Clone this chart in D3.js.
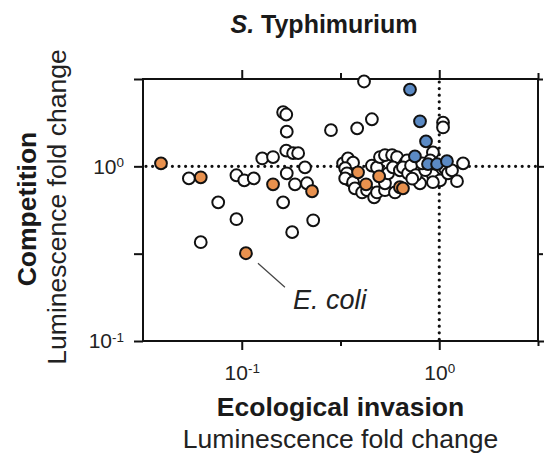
<!DOCTYPE html>
<html>
<head>
<meta charset="utf-8">
<script src="https://cdn.jsdelivr.net/npm/d3@7"></script>
<style>
  body { margin: 0; background: #fff; }
  svg { display: block; font-family: "Liberation Sans", Arial, sans-serif; }
</style>
</head>
<body>
<svg id="chart"></svg>
<script>
// invasion fold change (x), competition fold change (y)
const strainsOther = [
  [0.416, 3.06], [0.162, 2.04], [0.168, 1.98], [0.169, 1.58], [0.283, 1.61],
  [0.384, 1.65], [0.456, 1.86], [1.045, 1.78], [1.045, 1.67], [0.168, 1.23],
  [0.182, 1.19], [0.193, 1.19], [0.127, 1.11], [0.144, 1.13], [0.209, 0.986],
  [0.169, 0.912], [0.186, 0.789], [0.214, 0.800], [0.162, 0.622], [0.230, 0.491],
  [0.180, 0.420], [0.094, 0.498], [0.076, 0.622], [0.062, 0.368], [0.054, 0.853],
  [0.094, 0.889], [0.103, 0.832], [0.115, 0.853],
  [0.326, 1.04], [0.345, 1.11], [0.366, 1.05], [0.334, 0.975], [0.341, 0.912],
  [0.353, 0.832], [0.334, 0.853], [0.366, 0.811], [0.374, 0.748], [0.407, 0.709],
  [0.431, 0.730], [0.468, 0.665], [0.484, 0.709], [0.531, 0.730], [0.531, 0.800],
  [0.456, 1.01], [0.484, 0.986], [0.501, 1.13], [0.531, 1.16], [0.577, 1.16],
  [0.611, 1.13], [0.551, 0.912], [0.583, 0.986], [0.632, 0.948], [0.671, 1.04],
  [0.597, 0.709], [0.687, 1.08], [0.655, 0.986], [0.736, 0.986], [0.799, 0.948],
  [0.695, 0.912], [0.780, 0.832], [0.867, 0.865], [0.929, 0.889], [1.01, 0.832],
  [0.799, 0.800], [0.929, 0.811], [0.929, 1.20], [1.07, 0.975], [1.107, 0.912],
  [1.16, 0.948], [1.32, 1.04], [1.23, 0.822], [0.72, 1.01], [0.76, 0.89],
  [0.85, 0.95], [0.90, 1.08], [0.73, 0.85], [0.82, 1.04]
];

const strainsOrange = [
  [0.039, 1.04], [0.062, 0.865], [0.144, 0.789], [0.227, 0.720], [0.105, 0.318],
  [0.388, 0.924], [0.426, 0.789], [0.496, 0.877], [0.632, 0.759], [0.655, 0.748]
];

const strainsBlue = [
  [0.711, 2.75], [0.799, 1.81], [0.857, 1.39], [0.753, 1.14],
  [0.877, 1.03], [0.975, 1.03], [1.094, 1.07]
];

const annotations = [{name: "E. coli", x: 0.105, y: 0.318}];

const majorTicks = [0.1, 1];
const minorTicks = [Math.pow(10, -0.5), Math.pow(10, 0.5)];
const xDomain = [Math.pow(10, -1.5), Math.pow(10, 0.5)];
const yDomain = [0.1, Math.pow(10, 0.5)];

function main() {
  const width = 551, height = 457;
  const left = 143, right = 538, top = 79, bottom = 341;

  const colors = {other: "#fff", orange: "#e8914e", blue: "#5b8ac4"};

  const svg = d3.select("#chart")
    .attr("width", width)
    .attr("height", height);

  const x = d3.scaleLog().domain(xDomain).range([left, right]);
  const y = d3.scaleLog().domain(yDomain).range([bottom, top]);

  // exponent labels like 10^-1
  function powerLabel(sel) {
    sel.selectAll(".tick text").each(function(d) {
      const t = d3.select(this).text("");
      t.append("tspan").text("10");
      t.append("tspan")
        .attr("dy", "-0.5em")
        .attr("font-size", "0.64em")
        .text(Math.round(Math.log10(d)));
    });
  }

  function styleAxis(g) {
    g.attr("font-size", null).attr("font-family", null);
    g.select(".domain").remove();
    g.selectAll(".tick line").attr("stroke", "#111").attr("stroke-width", 2);
    g.selectAll(".tick text")
      .style("font-size", "21px")
      .attr("fill", "#222");
  }

  // bottom
  svg.append("g")
    .attr("transform", `translate(0,${bottom})`)
    .call(d3.axisBottom(x).tickValues(majorTicks).tickSize(9).tickPadding(15))
    .call(styleAxis)
    .call(powerLabel);
  svg.append("g")
    .attr("transform", `translate(0,${bottom})`)
    .call(d3.axisBottom(x).tickValues(minorTicks).tickSize(5).tickFormat(""))
    .call(styleAxis);

  // left
  svg.append("g")
    .attr("transform", `translate(${left},0)`)
    .call(d3.axisLeft(y).tickValues(majorTicks).tickSize(9).tickPadding(10))
    .call(styleAxis)
    .call(powerLabel);
  svg.append("g")
    .attr("transform", `translate(${left},0)`)
    .call(d3.axisLeft(y).tickValues(minorTicks).tickSize(9).tickFormat(""))
    .call(styleAxis);

  // top and right, ticks only
  svg.append("g")
    .attr("transform", `translate(0,${top})`)
    .call(d3.axisTop(x).tickValues(majorTicks).tickSize(9).tickFormat(""))
    .call(styleAxis);
  svg.append("g")
    .attr("transform", `translate(0,${top})`)
    .call(d3.axisTop(x).tickValues(minorTicks).tickSize(6).tickFormat(""))
    .call(styleAxis);
  svg.append("g")
    .attr("transform", `translate(${right},0)`)
    .call(d3.axisRight(y).tickValues(majorTicks).tickSize(6).tickFormat(""))
    .call(styleAxis);
  svg.append("g")
    .attr("transform", `translate(${right},0)`)
    .call(d3.axisRight(y).tickValues(minorTicks).tickSize(5).tickFormat(""))
    .call(styleAxis);

  svg.append("rect")
    .attr("x", left).attr("y", top)
    .attr("width", right - left).attr("height", bottom - top)
    .attr("fill", "none")
    .attr("stroke", "#111")
    .attr("stroke-width", 2);

  // dotted reference lines at fold change = 1
  const refs = svg.append("g")
    .attr("stroke", "#111")
    .attr("stroke-width", 3.2)
    .attr("stroke-linecap", "round")
    .attr("stroke-dasharray", "0 6.6");
  refs.append("line")
    .attr("x1", x(xDomain[0]) + 3).attr("x2", x(xDomain[1]))
    .attr("y1", y(1)).attr("y2", y(1));
  refs.append("line")
    .attr("x1", x(1)).attr("x2", x(1))
    .attr("y1", y(yDomain[1]) + 3).attr("y2", y(yDomain[0]));

  const groups = [
    {data: strainsOther, col: colors.other},
    {data: strainsOrange, col: colors.orange},
    {data: strainsBlue, col: colors.blue}
  ];

  groups.forEach(grp => {
    svg.append("g")
      .selectAll("circle")
      .data(grp.data)
      .enter()
      .append("circle")
        .attr("cx", d => x(d[0]))
        .attr("cy", d => y(d[1]))
        .attr("r", 5.9)
        .attr("fill", grp.col)
        .attr("stroke", "#111")
        .attr("stroke-width", 2);
  });

  // E. coli label
  const ann = svg.append("g")
    .selectAll("g")
    .data(annotations)
    .enter()
    .append("g")
      .attr("transform", d => `translate(${x(d.x)},${y(d.y)})`);
  ann.append("line")
    .attr("x1", 12).attr("y1", 10)
    .attr("x2", 39).attr("y2", 34)
    .attr("stroke", "#444")
    .attr("stroke-width", 1.2);
  ann.append("text")
    .attr("x", 47).attr("y", 56)
    .attr("font-size", 27)
    .attr("font-style", "italic")
    .attr("fill", "#222")
    .text(d => d.name);

  // title
  const title = svg.append("text")
    .attr("x", 324).attr("y", 33)
    .attr("text-anchor", "middle")
    .attr("font-size", 25)
    .attr("font-weight", "bold")
    .attr("fill", "#1a1a1a");
  title.append("tspan").attr("font-style", "italic").text("S.");
  title.append("tspan").text(" Typhimurium");

  // axis titles
  const cx = (left + right) / 2;
  svg.append("text")
    .attr("x", cx).attr("y", 416)
    .attr("text-anchor", "middle")
    .attr("font-size", 26.5)
    .attr("font-weight", "bold")
    .attr("fill", "#1a1a1a")
    .text("Ecological invasion");
  svg.append("text")
    .attr("x", cx).attr("y", 448)
    .attr("text-anchor", "middle")
    .attr("font-size", 26.5)
    .attr("fill", "#222")
    .text("Luminescence fold change");

  svg.append("text")
    .attr("transform", "translate(36,209) rotate(-90)")
    .attr("text-anchor", "middle")
    .attr("font-size", 26.5)
    .attr("font-weight", "bold")
    .attr("fill", "#1a1a1a")
    .text("Competition");
  svg.append("text")
    .attr("transform", "translate(66,207) rotate(-90)")
    .attr("text-anchor", "middle")
    .attr("font-size", 26.5)
    .attr("fill", "#222")
    .text("Luminescence fold change");
}

window.addEventListener("load", main);
</script>
</body>
</html>
